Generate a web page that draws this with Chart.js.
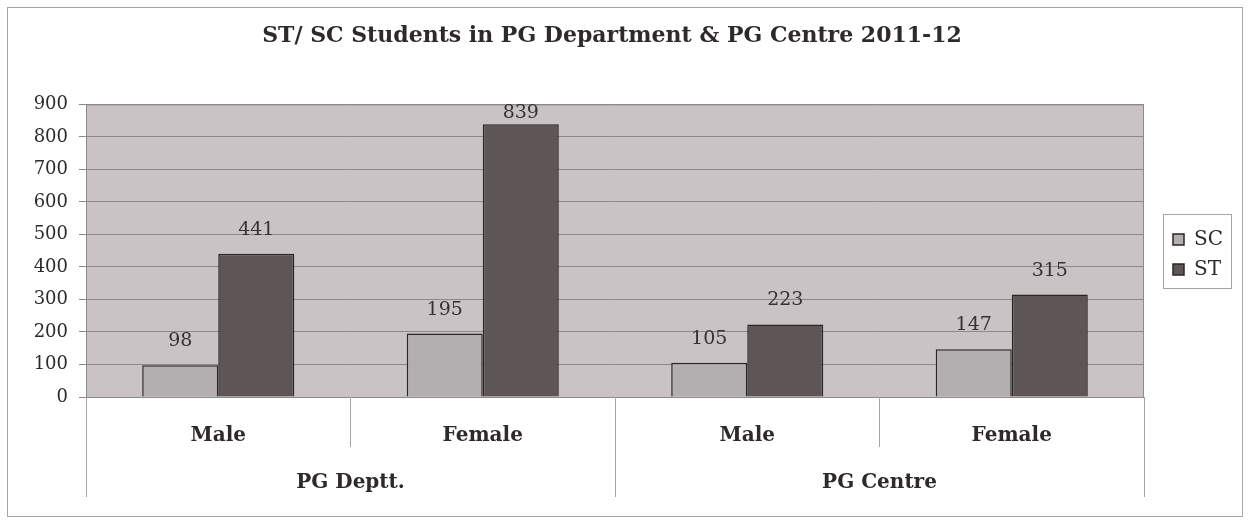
<!DOCTYPE html>
<html>
<head>
<meta charset="utf-8">
<script src="https://cdn.jsdelivr.net/npm/chart.js@4/dist/chart.umd.min.js"></script>
<style>
  html, body { margin: 0; padding: 0; background: #fff; }
  #wrap { width: 1248px; height: 521px; }
</style>
</head>
<body>
<div id="wrap"><canvas id="stChart" width="1248" height="521"></canvas></div>
<script>
// data
const categories = ["Male", "Female", "Male", "Female"];
const groups = ["PG Deptt.", "PG Centre"];
const scValues = [98, 195, 105, 147];
const stValues = [441, 839, 223, 315];
const yTicks = [0, 100, 200, 300, 400, 500, 600, 700, 800, 900];

const serif = "'DejaVu Serif', 'Liberation Serif', serif";

// frame, plot background, separators, group labels, value labels, legend box
const decor = {
  id: "decor",
  afterLayout(chart) {
    // move legend a little away from the plot
    const lg = chart.legend;
    const w = lg.width;
    lg.left = 1163;
    lg.right = lg.left + w;
    lg.top += 6;
    lg.bottom += 6;
  },
  beforeDraw(chart) {
    const ctx = chart.ctx;
    const a = chart.chartArea;
    ctx.save();
    ctx.fillStyle = "#fff";
    ctx.fillRect(0, 0, chart.width, chart.height);
    ctx.strokeStyle = "#a8a4a6";
    ctx.lineWidth = 1;
    ctx.strokeRect(7.5, 7.5, 1235, 509);
    ctx.fillStyle = "#c9c3c5";
    ctx.fillRect(a.left, a.top, a.right - a.left, a.bottom - a.top);
    ctx.restore();
  },
  afterDraw(chart) {
    const ctx = chart.ctx;
    const a = chart.chartArea;
    const x = chart.scales.x;
    const step = (a.right - a.left) / categories.length;
    ctx.save();
    // plot border top/right
    ctx.strokeStyle = "#8e888a";
    ctx.lineWidth = 1;
    ctx.beginPath();
    ctx.moveTo(a.left, a.top + 0.5);
    ctx.lineTo(a.right - 0.5, a.top + 0.5);
    ctx.lineTo(a.right - 0.5, a.bottom);
    ctx.stroke();
    // category separators
    ctx.strokeStyle = "#a8a4a6";
    for (let i = 0; i <= categories.length; i++) {
      const px = Math.round(a.left + step * i) + 0.5;
      const len = i % 2 === 0 ? 100 : 50;
      ctx.beginPath();
      ctx.moveTo(px, a.bottom);
      ctx.lineTo(px, a.bottom + len);
      ctx.stroke();
    }
    // group labels
    ctx.fillStyle = "#2e2a2a";
    ctx.font = "bold 20px " + serif;
    ctx.textAlign = "center";
    ctx.textBaseline = "middle";
    groups.forEach((g, i) => {
      const cx = (x.getPixelForValue(i * 2) + x.getPixelForValue(i * 2 + 1)) / 2;
      ctx.fillText(g, cx, a.bottom + 86);
    });
    // value labels
    ctx.font = "19px " + serif;
    ctx.fillStyle = "#333";
    chart.data.datasets.forEach((ds, di) => {
      chart.getDatasetMeta(di).data.forEach((bar, i) => {
        const ty = Math.max(bar.y - 24, a.top + 9);
        ctx.fillText(ds.data[i], bar.x, ty);
      });
    });
    // legend box
    ctx.strokeStyle = "#a8a4a6";
    ctx.strokeRect(1163.5, 214.5, 68, 74);
    ctx.restore();
  }
};

const chart = new Chart(document.getElementById("stChart"), {
  type: "bar",
  data: {
    labels: categories,
    datasets: [
      {
        label: "SC",
        data: scValues,
        backgroundColor: "#b3aeb0",
        borderColor: "#2b2626",
        borderWidth: 1.5,
        barPercentage: 1,
        categoryPercentage: 0.575
      },
      {
        label: "ST",
        data: stValues,
        backgroundColor: "#5e5656",
        borderColor: "#2b2626",
        borderWidth: 1.5,
        barPercentage: 1,
        categoryPercentage: 0.575
      }
    ]
  },
  plugins: [decor],
  options: {
    responsive: false,
    animation: false,
    layout: { padding: { left: 10, right: 34, top: 0, bottom: 24 } },
    plugins: {
      title: {
        display: true,
        text: "ST/ SC Students in PG Department & PG Centre 2011-12",
        color: "#2e2a2a",
        font: { family: serif, size: 22, weight: "bold" },
        padding: { top: 23, bottom: 55 }
      },
      legend: {
        position: "right",
        labels: {
          color: "#2e2a2a",
          font: { family: serif, size: 20 },
          boxWidth: 11,
          boxHeight: 11,
          padding: 10
        }
      },
      tooltip: { enabled: false }
    },
    scales: {
      x: {
        grid: { display: false },
        border: { display: false },
        ticks: {
          color: "#2e2a2a",
          font: { family: serif, size: 20, weight: "bold" },
          padding: 19
        },
        afterFit(scale) { scale.height = 100; }
      },
      y: {
        min: 0,
        max: 900,
        afterBuildTicks(scale) { scale.ticks = yTicks.map(v => ({ value: v })); },
        ticks: {
          color: "#2e2a2a",
          font: { family: serif, size: 18 },
          padding: 11
        },
        grid: { color: "#8e888a", tickLength: 7 },
        border: { color: "#8e888a" },
        afterFit(scale) { scale.width = 76; }
      }
    }
  }
});
</script>
</body>
</html>
